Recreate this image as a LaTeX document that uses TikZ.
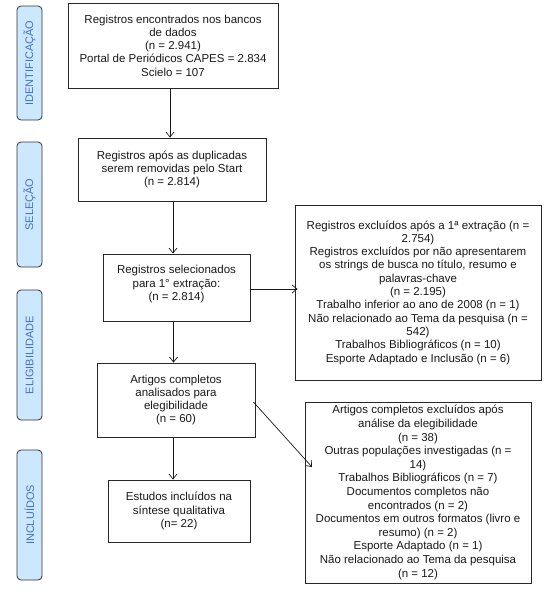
\documentclass[tikz,border=0pt]{standalone}
\usepackage{fontspec}
\setmainfont{Liberation Sans}
\usetikzlibrary{arrows.meta,calc}
\definecolor{sidefill}{RGB}{204,232,255}
\definecolor{sidetext}{RGB}{68,114,196}
\definecolor{edgecol}{RGB}{40,40,40}
\definecolor{txtcol}{RGB}{25,25,25}
\begin{document}
\begin{tikzpicture}[x=1pt,y=-1pt,
  box/.style={draw=edgecol,line width=0.8pt,align=center,inner sep=2pt,
    font=\fontsize{11.5}{13.3}\selectfont,text=txtcol},
  side/.style={draw=black!80,fill=sidefill,rounded corners=4pt,rotate=90,
    minimum height=25pt,inner sep=0pt,text=sidetext,line width=0.8pt,
    font=\fontsize{11}{13.3}\selectfont},
  arr/.style={-{Straight Barb[length=5pt,width=8pt]},line width=0.7pt,draw=txtcol}]
\useasboundingbox (0,0) rectangle (554,600);

% side labels
\node[side,minimum width=114pt] (sid) at (29.5,63) {IDENTIFICAÇÃO};
\node[side,minimum width=125pt] (sse) at (29.5,204.5) {SELEÇÃO};
\node[side,minimum width=130pt] (sel) at (29.5,355) {ELIGIBILIDADE};
\node[side,minimum width=130pt] (sin) at (29.5,515) {INCLUÍDOS};

% main boxes
\node[box,minimum width=210pt,minimum height=85pt] (b1) at (173,45.5)
  {Registros encontrados nos bancos\\de dados\\(n = 2.941)\\Portal de Periódicos CAPES = 2.834\\Scielo = 107};
\node[box,minimum width=188pt,minimum height=63pt] (b2) at (172,169.5)
  {Registros após as duplicadas\\serem removidas pelo Start\\(n = 2.814)};
\node[box,minimum width=147pt,minimum height=67pt] (b3) at (176.5,287.5)
  {Registros selecionados\\para 1° extração:\\(n = 2.814)\\[-4.3pt]};
\node[box,minimum width=158pt,minimum height=74pt] (b4) at (176,400)
  {Artigos completos\\analisados para\\elegibilidade\\(n = 60)};
\node[box,minimum width=142pt,minimum height=62pt] (b5) at (179,511)
  {Estudos incluídos na\\síntese qualitativa\\(n= 22)};

% exclusion boxes
\node[box,minimum width=246pt,minimum height=175pt] (r1) at (418,292.5)
  {Registros excluídos após a 1ª extração (n =\\2.754)\\Registros excluídos por não apresentarem\\os strings de busca no título, resumo e\\palavras-chave\\(n = 2.195)\\Trabalho inferior ao ano de 2008 (n = 1)\\Não relacionado ao Tema da pesquisa (n =\\542)\\Trabalhos Bibliográficos (n = 10)\\Esporte Adaptado e Inclusão (n = 6)};
\node[box,minimum width=226pt,minimum height=181pt,font=\fontsize{11.5}{13.6}\selectfont] (r2) at (418,492.5)
  {Artigos completos excluídos após\\análise da elegibilidade\\(n = 38)\\Outras populações investigadas (n =\\14)\\Trabalhos Bibliográficos (n = 7)\\Documentos completos não\\encontrados (n = 2)\\Documentos em outros formatos (livro e\\resumo) (n = 2)\\Esporte Adaptado (n = 1)\\Não relacionado ao Tema da pesquisa\\(n = 12)};

% connectors
\draw[arr] ($(b1.south)+(-3,0)$) -- ($(b1.south |- b2.north)+(-3,0)$);
\draw[arr] ($(b2.south)+(1,0)$) -- ($(b2.south |- b3.north)+(1,0)$);
\draw[arr] ($(b3.south)+(-3,0)$) -- ($(b3.south |- b4.north)+(-3,0)$);
\draw[arr] ($(b4.south)+(-3,0)$) -- ($(b4.south |- b5.north)+(-3,0)$);
\draw[arr] ($(b3.east)+(0,1.5)$) -- ($(b3.east -| r1.west)+(3,1.5)$);
\coordinate (e6) at (312,467);
\draw[arr] ($(b4.east)+(-2,2)$) -- (e6);
\end{tikzpicture}
\end{document}
